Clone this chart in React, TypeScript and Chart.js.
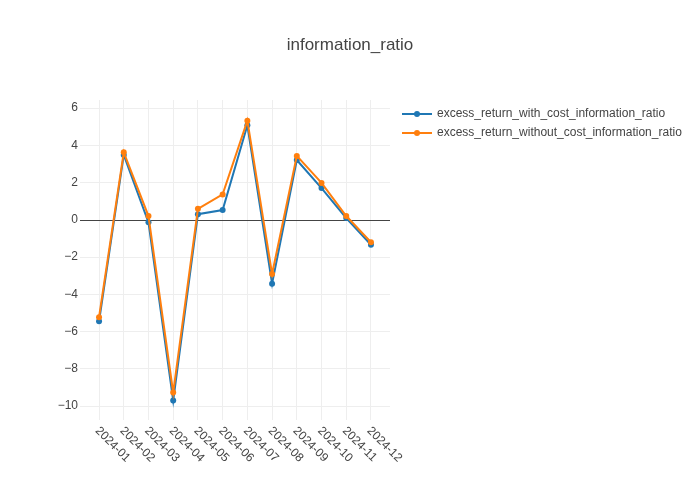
import React, { useEffect, useRef } from "react";
import { Chart, registerables } from "chart.js";

Chart.register(...registerables);

const months = ["2024-01", "2024-02", "2024-03", "2024-04", "2024-05", "2024-06", "2024-07", "2024-08", "2024-09", "2024-10", "2024-11", "2024-12"];
const withCost = [-5.45, 3.48, -0.14, -9.7, 0.3, 0.52, 5.07, -3.43, 3.21, 1.7, 0.09, -1.34];
const withoutCost = [-5.23, 3.62, 0.2, -9.28, 0.59, 1.36, 5.32, -2.91, 3.43, 1.98, 0.2, -1.21];
const yTicks = [-10, -8, -6, -4, -2, 0, 2, 4, 6];
const seriesNames = ["excess_return_with_cost_information_ratio", "excess_return_without_cost_information_ratio"];
const colors = ["#1f77b4", "#ff7f0e"];
const titleText = "information_ratio";

const FONT = '"Liberation Sans", Arial, sans-serif';

const fmt = (v: number) => (v < 0 ? "\u2212" + Math.abs(v) : String(v));

export default function App() {
  const ref = useRef<HTMLCanvasElement | null>(null);
  useEffect(() => {
    if (!ref.current) return;
    const overlay = {
      id: "overlay",
      beforeDatasetsDraw(chart: any) {
        const ctx = chart.ctx;
        const y = chart.scales.y;
        const { left, right } = chart.chartArea;
        const py = Math.round(y.getPixelForValue(0)) + 0.5;
        ctx.save();
        ctx.strokeStyle = "#444";
        ctx.lineWidth = 1;
        ctx.beginPath();
        ctx.moveTo(left, py);
        ctx.lineTo(right, py);
        ctx.stroke();
        ctx.restore();
      },
      afterDraw(chart: any) {
        const ctx = chart.ctx;
        const x = chart.scales.x;
        const { bottom } = chart.chartArea;
        ctx.save();
        ctx.fillStyle = "#444";
        ctx.font = `17px ${FONT}`;
        ctx.textAlign = "center";
        ctx.textBaseline = "alphabetic";
        ctx.fillText(titleText, 350, 50);
        ctx.font = `12px ${FONT}`;
        ctx.textAlign = "left";
        ctx.textBaseline = "middle";
        months.forEach((m, i) => {
          const px = x.getPixelForValue(i);
          ctx.save();
          ctx.translate(px - 2, bottom + 9);
          ctx.rotate(Math.PI / 4);
          ctx.fillText(m, 0, 0);
          ctx.restore();
        });
        seriesNames.forEach((name, i) => {
          const ly = 114 + i * 19;
          ctx.strokeStyle = colors[i];
          ctx.lineWidth = 2;
          ctx.beginPath();
          ctx.moveTo(402, ly);
          ctx.lineTo(432, ly);
          ctx.stroke();
          ctx.fillStyle = colors[i];
          ctx.beginPath();
          ctx.arc(417, ly, 3, 0, Math.PI * 2);
          ctx.fill();
          ctx.fillStyle = "#444";
          ctx.textAlign = "left";
          ctx.textBaseline = "middle";
          ctx.fillText(name, 437, ly);
        });
        ctx.restore();
      },
    };
    const chart = new Chart(ref.current, {
      type: "line",
      data: {
        datasets: [
          {
            label: seriesNames[0],
            data: withCost.map((v, i) => ({ x: i, y: v })),
            borderColor: colors[0],
            backgroundColor: colors[0],
            borderWidth: 2,
            pointRadius: 3,
            pointBorderWidth: 0,
            pointHoverRadius: 3,
            tension: 0,
            order: 1,
          },
          {
            label: seriesNames[1],
            data: withoutCost.map((v, i) => ({ x: i, y: v })),
            borderColor: colors[1],
            backgroundColor: colors[1],
            borderWidth: 2,
            pointRadius: 3,
            pointBorderWidth: 0,
            pointHoverRadius: 3,
            tension: 0,
            order: 0,
          },
        ],
      },
      options: {
        animation: false,
        responsive: false,
        maintainAspectRatio: false,
        layout: { padding: { top: 100, right: 310, left: 0, bottom: 0 } },
        plugins: { legend: { display: false }, tooltip: { enabled: false }, title: { display: false } },
        scales: {
          x: {
            type: "linear",
            min: -0.77,
            max: 11.77,
            afterBuildTicks: (s: any) => {
              s.ticks = months.map((_, i) => ({ value: i }));
            },
            afterFit: (s: any) => {
              s.height = 80;
            },
            ticks: { display: false },
            grid: { color: "#eee", drawTicks: false },
            border: { display: false },
          },
          y: {
            type: "linear",
            min: -10.75,
            max: 6.43,
            afterBuildTicks: (s: any) => {
              s.ticks = yTicks.map((v) => ({ value: v }));
            },
            afterFit: (s: any) => {
              s.width = 80;
            },
            ticks: {
              callback: (v: any) => fmt(Number(v)),
              color: "#444",
              font: { family: FONT, size: 12 },
              padding: 2,
            },
            grid: { color: (c: any) => (c.tick && c.tick.value === 0 ? "rgba(0,0,0,0)" : "#eee"), drawTicks: false },
            border: { display: false },
          },
        },
      },
      plugins: [overlay],
    } as any);
    return () => chart.destroy();
  }, []);
  return (
    <div style={{ position: "absolute", left: 0, top: 0, width: 700, height: 500, background: "#fff" }}>
      <canvas ref={ref} width={700} height={500} style={{ width: 700, height: 500 }} />
    </div>
  );
}
